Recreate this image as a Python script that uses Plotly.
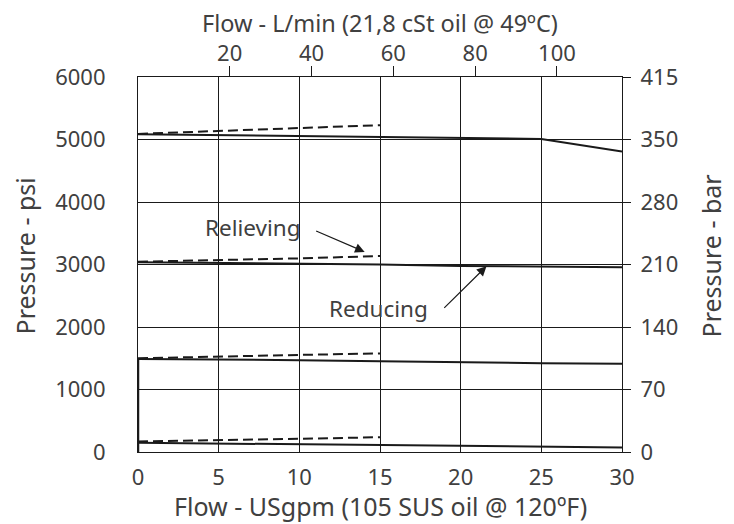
import plotly.graph_objects as go

# ---- data ----
flow_gpm = [0, 5, 10, 15, 20, 25, 30]
flow_relief = [0, 5, 10, 15]

# Reducing curves (psi) at each setting
red_5000 = [5084, 5069, 5060, 5045, 5024, 5009, 4808]
red_3000 = [3038, 3028, 3016, 3000, 2978, 2967, 2955]
red_1500 = [1490, 1484, 1469, 1453, 1432, 1421, 1411]
red_100 = [148, 137, 126, 117, 95, 85, 74]

# Relieving curves (psi)
rel_5000 = [5090, 5135, 5189, 5230]
rel_3000 = [3044, 3066, 3098, 3136]
rel_1500 = [1499, 1531, 1553, 1578]
rel_100 = [169, 196, 211, 237]

psi_ticks = [0, 1000, 2000, 3000, 4000, 5000, 6000]
bar_labels = ["0", "70", "140", "210", "280", "350", "415"]
gpm_ticks = [0, 5, 10, 15, 20, 25, 30]
lpm_ticks = [20, 40, 60, 80, 100]
lpm_range = [-2.4, 115.9]

FONT = "Noto Sans"
TXT = "#404040"
LINE = "#1a1a1a"
FS = 22

fig = go.Figure()

# vertical rise at zero flow
fig.add_trace(go.Scatter(x=[0, 0], y=[0, red_1500[0]], mode="lines",
                         line=dict(color=LINE, width=2.5), showlegend=False))

for red in [red_5000, red_3000, red_1500, red_100]:
    fig.add_trace(go.Scatter(x=flow_gpm, y=red, mode="lines",
                             line=dict(color=LINE, width=2), showlegend=False))
for rel in [rel_5000, rel_3000, rel_1500, rel_100]:
    fig.add_trace(go.Scatter(x=flow_relief, y=rel, mode="lines",
                             line=dict(color=LINE, width=2, dash="10px,5px"),
                             showlegend=False))

# dummy traces to activate secondary axes
fig.add_trace(go.Scatter(x=[None], y=[None], xaxis="x2", yaxis="y", showlegend=False))
fig.add_trace(go.Scatter(x=[None], y=[None], xaxis="x", yaxis="y2", showlegend=False))

# page body has an 8px margin: figure is 726x516, placed at (8, 8)
fig.update_layout(
    width=726, height=516,
    margin=dict(l=130, r=112, t=69, b=72),
    paper_bgcolor="white", plot_bgcolor="white",
    font=dict(family=FONT, size=FS, color=TXT),
    xaxis=dict(range=[0, 30], tickvals=gpm_ticks, showgrid=True,
               gridcolor=LINE, gridwidth=1, zeroline=False,
               showline=True, linecolor=LINE, linewidth=1.2,
               ticks="", ticklabelstandoff=5, automargin=False),
    xaxis2=dict(range=lpm_range, tickvals=lpm_ticks, overlaying="x", side="top",
                showgrid=False, zeroline=False, showline=True, linecolor=LINE,
                linewidth=1.2, ticks="outside", ticklen=10, tickcolor=LINE,
                tickwidth=1.2, ticklabelstandoff=-4, automargin=False),
    yaxis=dict(range=[0, 6000], tickvals=psi_ticks, showgrid=True,
               gridcolor=LINE, gridwidth=1, zeroline=False,
               showline=True, linecolor=LINE, linewidth=1.2,
               ticks="", ticklabelstandoff=27, automargin=False),
    yaxis2=dict(range=[0, 6000], tickvals=psi_ticks, ticktext=bar_labels,
                overlaying="y", side="right", showgrid=False, zeroline=False,
                showline=True, linecolor=LINE, linewidth=1.2,
                ticks="outside", ticklen=8, tickcolor=LINE, tickwidth=1,
                ticklabelstandoff=5, automargin=False),
)

# axis titles
fig.add_annotation(xref="paper", yref="paper", x=0.5, y=0, yshift=-54,
                   text="Flow - USgpm (105 SUS oil @ 120ºF)", showarrow=False,
                   xanchor="center", yanchor="middle", font=dict(size=25))
fig.add_annotation(xref="paper", yref="paper", x=0.5, y=1, yshift=54,
                   text="Flow - L/min (21,8 cSt oil @ 49ºC)", showarrow=False,
                   xanchor="center", yanchor="middle", font=dict(size=23.5))
fig.add_annotation(xref="paper", yref="paper", x=0, y=0.5, yshift=8, xshift=-114,
                   text="Pressure - psi", showarrow=False, textangle=-90,
                   xanchor="center", yanchor="middle", font=dict(size=25))
fig.add_annotation(xref="paper", yref="paper", x=1, y=0.5, yshift=8, xshift=88,
                   text="Pressure - bar", showarrow=False, textangle=-90,
                   xanchor="center", yanchor="middle", font=dict(size=25))

# curve labels
fig.add_annotation(x=7.14, y=3590, text="Relieving", showarrow=False,
                   font=dict(size=22.5))
fig.add_annotation(x=14.05, y=3202, ax=10.95, ay=3546, axref="x", ayref="y",
                   text="", showarrow=True, arrowhead=2, arrowsize=1.6,
                   arrowwidth=1.2, arrowcolor=LINE)
fig.add_annotation(x=14.88, y=2295, text="Reducing", showarrow=False,
                   font=dict(size=22.5))
fig.add_annotation(x=21.6, y=2972, ax=18.89, ay=2283, axref="x", ayref="y",
                   text="", showarrow=True, arrowhead=2, arrowsize=1.6,
                   arrowwidth=1.2, arrowcolor=LINE)

fig.write_html("out.html")
